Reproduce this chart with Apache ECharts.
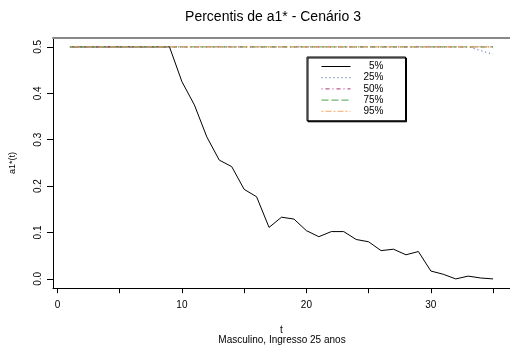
<!DOCTYPE html>
<html>
<head>
<meta charset="utf-8">
<script src="https://cdn.jsdelivr.net/npm/echarts@6/dist/echarts.min.js"></script>
<style>
  html, body { margin: 0; padding: 0; background: #ffffff; }
  #chart { width: 510px; height: 347px; }
</style>
</head>
<body>
<div id="chart"></div>
<script>
// Time index (years since entry)
const t = [1, 2, 3, 4, 5, 6, 7, 8, 9, 10, 11, 12, 13, 14, 15, 16, 17, 18,
           19, 20, 21, 22, 23, 24, 25, 26, 27, 28, 29, 30, 31, 32, 33, 34, 35];

// Percentiles of a1*(t)
const p05 = [0.5, 0.5, 0.5, 0.5, 0.5, 0.5, 0.5, 0.5, 0.5, 0.425, 0.375, 0.306,
             0.256, 0.242, 0.193, 0.177, 0.111, 0.133, 0.129, 0.104, 0.091,
             0.102, 0.102, 0.085, 0.080, 0.061, 0.064, 0.052, 0.059, 0.017,
             0.010, 0.000, 0.006, 0.002, 0.000];
const p25 = [0.5, 0.5, 0.5, 0.5, 0.5, 0.5, 0.5, 0.5, 0.5, 0.5, 0.5, 0.5,
             0.5, 0.5, 0.5, 0.5, 0.5, 0.5, 0.5, 0.5, 0.5, 0.5, 0.5, 0.5,
             0.5, 0.5, 0.5, 0.5, 0.5, 0.5, 0.5, 0.5, 0.5, 0.492, 0.484];
const p50 = [0.5, 0.5, 0.5, 0.5, 0.5, 0.5, 0.5, 0.5, 0.5, 0.5, 0.5, 0.5,
             0.5, 0.5, 0.5, 0.5, 0.5, 0.5, 0.5, 0.5, 0.5, 0.5, 0.5, 0.5,
             0.5, 0.5, 0.5, 0.5, 0.5, 0.5, 0.5, 0.5, 0.5, 0.5, 0.5];
const p75 = [0.5, 0.5, 0.5, 0.5, 0.5, 0.5, 0.5, 0.5, 0.5, 0.5, 0.5, 0.5,
             0.5, 0.5, 0.5, 0.5, 0.5, 0.5, 0.5, 0.5, 0.5, 0.5, 0.5, 0.5,
             0.5, 0.5, 0.5, 0.5, 0.5, 0.5, 0.5, 0.5, 0.5, 0.5, 0.5];
const p95 = [0.5, 0.5, 0.5, 0.5, 0.5, 0.5, 0.5, 0.5, 0.5, 0.5, 0.5, 0.5,
             0.5, 0.5, 0.5, 0.5, 0.5, 0.5, 0.5, 0.5, 0.5, 0.5, 0.5, 0.5,
             0.5, 0.5, 0.5, 0.5, 0.5, 0.5, 0.5, 0.5, 0.5, 0.5, 0.5];

const seriesNames = ['5%', '25%', '50%', '75%', '95%'];
const xTicks = [0, 5, 10, 15, 20, 25, 30, 35];
const xLabels = [0, 10, 20, 30];
const yTicks = [0, 0.1, 0.2, 0.3, 0.4, 0.5];

const FONT = '"Liberation Sans", Arial, sans-serif';

const styles = [
  { color: '#000000', type: 'solid' },
  { color: '#2f4f94', type: [1, 3] },
  { color: '#a3336f', type: [1, 3, 4, 3] },
  { color: '#4ea24e', type: [7, 3] },
  { color: '#f7ab66', type: [2, 2, 6, 2] }
];
const values = [p05, p25, p50, p75, p95];

const series = values.map((vals, i) => ({
  name: seriesNames[i],
  type: 'line',
  symbol: 'none',
  silent: true,
  animation: false,
  data: t.map((x, k) => [x, vals[k]]),
  lineStyle: { color: styles[i].color, width: 1, type: styles[i].type },
  itemStyle: { color: styles[i].color }
}));

const chart = echarts.init(document.getElementById('chart'), null, { renderer: 'canvas' });
chart.setOption({
  backgroundColor: '#ffffff',
  animation: false,
  title: [
    {
      text: 'Percentis de a1* - Cenário 3',
      left: 268, top: 5, textAlign: 'center',
      textStyle: { fontFamily: FONT, fontSize: 14, fontWeight: 'normal', color: '#000' }
    },
    {
      text: 'Masculino, Ingresso 25 anos',
      left: 277, top: 330, textAlign: 'center',
      textStyle: { fontFamily: FONT, fontSize: 10, fontWeight: 'normal', color: '#000' }
    }
  ],
  grid: { left: 51.5, top: 37.6, width: 461.5, height: 250.6, containLabel: false },
  legend: {
    left: 307, top: 57,
    orient: 'vertical',
    data: seriesNames,
    selectedMode: false,
    itemWidth: 29, itemHeight: 10, itemGap: 1.2,
    padding: [4.5, 22, 4.5, 14],
    backgroundColor: '#ffffff',
    borderColor: '#000000', borderWidth: 1,
    shadowColor: '#000000', shadowOffsetX: 1, shadowOffsetY: 1, shadowBlur: 0,
    itemStyle: { opacity: 0, borderWidth: 0 },
    lineStyle: { width: 1 },
    formatter: name => '{v|' + name + '}',
    textStyle: {
      fontFamily: FONT, fontSize: 10, color: '#000',
      rich: { v: { width: 28, align: 'right', fontFamily: FONT, fontSize: 10, lineHeight: 10 } }
    }
  },
  xAxis: [
    {
      type: 'value', min: -0.36, max: 36.36,
      name: 't', nameLocation: 'middle', nameGap: 37,
      nameTextStyle: { fontFamily: FONT, fontSize: 10, color: '#000' },
      axisLine: { show: true, onZero: false, lineStyle: { color: '#000', width: 1 } },
      axisTick: { show: true, length: 5, customValues: xTicks, lineStyle: { color: '#000' } },
      axisLabel: { customValues: xLabels, margin: 12, fontFamily: FONT, fontSize: 10, color: '#000' },
      splitLine: { show: false }
    },
    {
      type: 'value', position: 'top', min: -0.36, max: 36.36,
      axisLine: { show: true, onZero: false, lineStyle: { color: '#888', width: 2 } },
      axisTick: { show: false }, axisLabel: { show: false }, splitLine: { show: false }
    }
  ],
  yAxis: {
    type: 'value', min: -0.02, max: 0.52,
    name: 'a1*(t)', nameLocation: 'middle', nameGap: 36, nameRotate: 90,
    nameTextStyle: { fontFamily: FONT, fontSize: 9, color: '#000' },
    axisLine: { show: true, onZero: false, lineStyle: { color: '#000', width: 1 } },
    axisTick: { show: true, length: 6, customValues: yTicks, lineStyle: { color: '#000' } },
    axisLabel: {
      customValues: yTicks, rotate: 90, margin: 10,
      fontFamily: FONT, fontSize: 10, color: '#000',
      formatter: v => v.toFixed(1)
    },
    splitLine: { show: false }
  },
  series: series
});
</script>
</body>
</html>
